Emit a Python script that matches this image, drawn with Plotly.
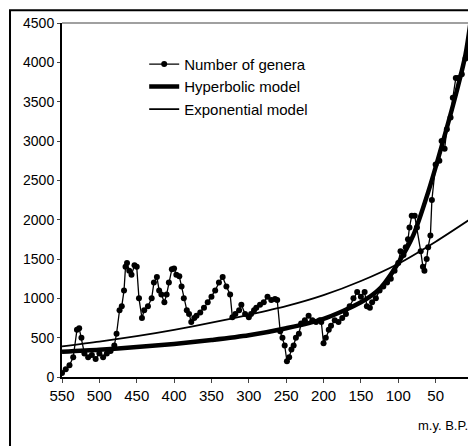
import plotly.graph_objects as go

genera_x = [550, 545, 540, 535, 530, 527, 524, 520, 515, 510, 505, 500, 495, 490, 485, 480, 477, 473, 470, 467,
            465, 463, 460, 457, 453, 450, 447, 443, 440, 435, 430, 427, 423, 420, 417, 413, 410, 407, 403, 400,
            397, 393, 390, 387, 383, 380, 377, 373, 370, 365, 360, 355, 350, 345, 340, 335, 330, 325, 322, 318,
            313, 310, 305, 300, 297, 293, 290, 285, 280, 275, 270, 265, 262, 258, 255, 252, 249, 246, 243, 240,
            237, 233, 230, 225, 220, 215, 210, 205, 203, 200, 197, 193, 190, 185, 180, 175, 170, 165, 160, 155,
            150, 145, 142, 138, 135, 130, 125, 120, 115, 110, 105, 100, 97, 93, 90, 87, 85, 82, 78, 75,
            70, 67, 65, 62, 60, 57, 55, 50, 45, 42, 38, 35, 30, 27, 23, 20, 15, 10, 5, 2, 0]
genera_y = [50, 100, 150, 250, 600, 620, 500, 300, 250, 280, 230, 300, 250, 300, 330, 400, 550, 850, 900, 1100,
            1400, 1450, 1350, 1300, 1420, 1400, 1000, 750, 850, 900, 1000, 1200, 1270, 1100, 1050, 950, 1050, 1200, 1370, 1380,
            1300, 1280, 1150, 1000, 850, 800, 700, 750, 780, 820, 880, 950, 1020, 1100, 1200, 1270, 1150, 1050, 760, 800,
            850, 920, 800, 760, 800, 850, 880, 920, 950, 1020, 980, 990, 980, 580, 500, 400, 200, 250, 350, 400,
            500, 550, 680, 720, 780, 720, 700, 720, 700, 430, 500, 600, 650, 720, 700, 750, 800, 900, 1000, 1080,
            1020, 1080, 900, 880, 950, 1000, 1100, 1150, 1200, 1250, 1350, 1450, 1600, 1550, 1650, 1750, 1900, 2050, 2050, 1900,
            1600, 1400, 1350, 1500, 1650, 1800, 2250, 2700, 2750, 3000, 2900, 3150, 3300, 3550, 3800, 3800, 3850, 4050, 4100, 4150, 4100]

hyper_x = [550, 500, 450, 400, 350, 300, 250, 200, 150, 125, 100, 80, 60, 40, 20, 10, 2]
hyper_y = [320, 345, 380, 420, 470, 530, 620, 740, 950, 1120, 1450, 1800, 2350, 3000, 3700, 4100, 4600]

expo_x = [550, 500, 450, 400, 350, 300, 250, 200, 150, 100, 50, 0]
expo_y = [390, 450, 520, 600, 690, 790, 900, 1040, 1220, 1440, 1720, 2030]

fig = go.Figure()
fig.add_trace(go.Scatter(x=genera_x, y=genera_y, mode="lines+markers", name="Number of genera", legendrank=1,
                         line=dict(color="black", width=1.3), marker=dict(color="black", size=6)))
fig.add_trace(go.Scatter(x=hyper_x, y=hyper_y, mode="lines", name="Hyperbolic model", legendrank=2,
                         line=dict(color="black", width=4.5, shape="spline", smoothing=0.8)))
fig.add_trace(go.Scatter(x=expo_x, y=expo_y, mode="lines", name="Exponential model", legendrank=3,
                         line=dict(color="black", width=1.8, shape="spline", smoothing=0.8)))

fig.update_layout(
    width=468, height=438,
    margin=dict(l=54, r=3, t=15, b=69, autoexpand=False),
    paper_bgcolor="white", plot_bgcolor="white",
    font=dict(family="Liberation Sans Narrow, Liberation Sans", size=15, color="black"),
    showlegend=True,
    legend=dict(x=0.2, y=0.93, xanchor="left", yanchor="top", bgcolor="rgba(0,0,0,0)",
                font=dict(size=15), itemwidth=30, tracegroupgap=0),
    xaxis=dict(range=[550, 0], tickvals=[550, 500, 450, 400, 350, 300, 250, 200, 150, 100, 50, 0],
               showgrid=False, zeroline=False, showline=True, linecolor="black", linewidth=2,
               ticks="outside", ticklen=4, tickfont=dict(size=15), automargin=False),
    yaxis=dict(range=[0, 4500], dtick=500, showgrid=False, zeroline=False, showline=True,
               linecolor="black", linewidth=2, ticks="outside", ticklen=3, tickfont=dict(size=14),
               automargin=False),
    shapes=[
        dict(type="line", xref="paper", yref="paper", x0=0, x1=1, y0=1, y1=1, line=dict(color="gray", width=1.5)),
        dict(type="line", xref="paper", yref="paper", x0=1, x1=1, y0=0, y1=1, line=dict(color="gray", width=1.5)),
        dict(type="rect", xref="paper", yref="paper", x0=-0.1265, x1=1.05, y0=-0.25, y1=1.036,
             line=dict(color="black", width=2)),
    ],
    annotations=[dict(text="m.y. B.P.", xref="paper", yref="paper", x=0.993, y=-0.136,
                      xanchor="right", yanchor="middle", showarrow=False, font=dict(size=13))],
)

fig.write_html("out.html")
